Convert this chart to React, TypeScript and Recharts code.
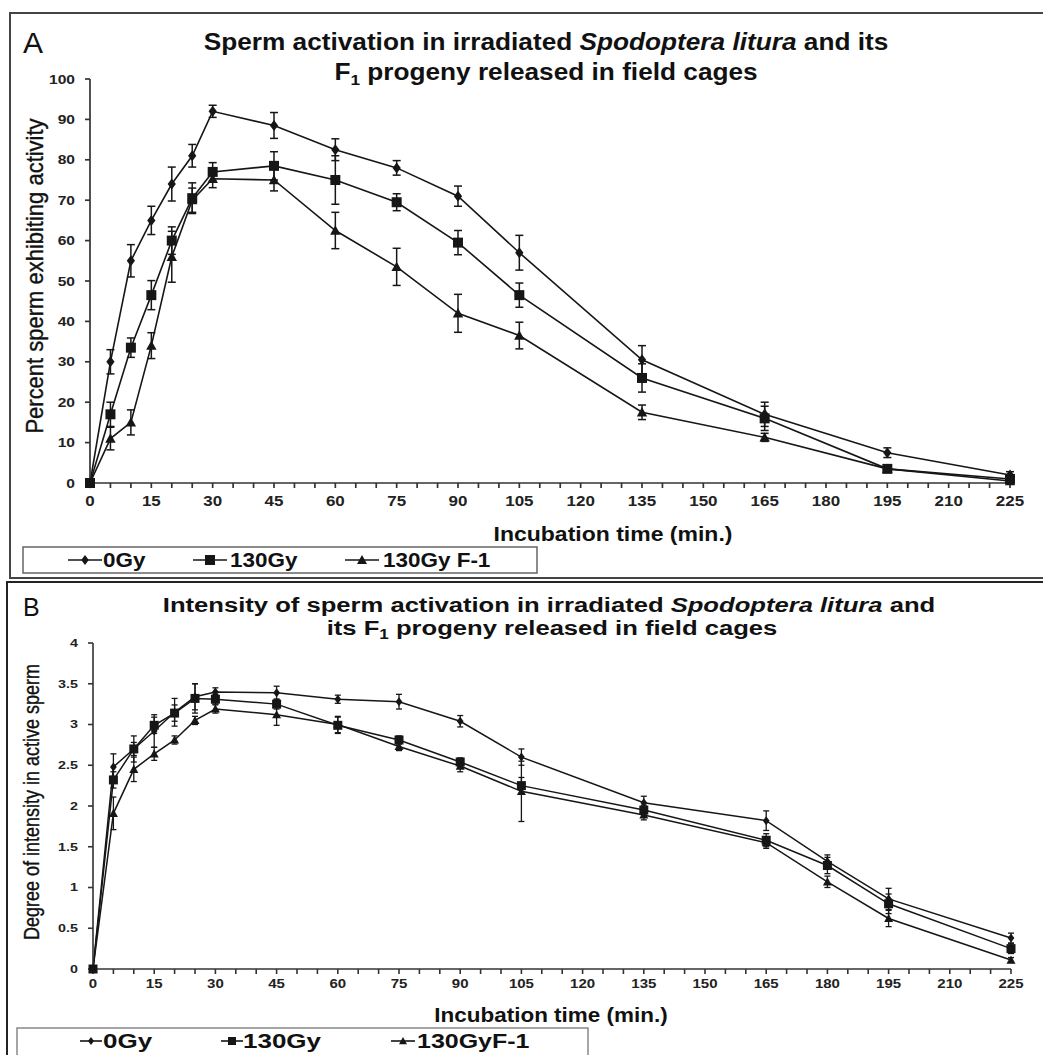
import React from 'react';
import { LineChart, Line, XAxis, YAxis, ErrorBar } from 'recharts';

// Panel A: percent sperm exhibiting activity
const timesA = [0, 5, 10, 15, 20, 25, 30, 45, 60, 75, 90, 105, 135, 165, 195, 225];
const gy0A = [0, 30, 55, 65, 74, 81, 92, 88.5, 82.5, 78, 71, 57, 30.5, 17, 7.5, 2];
const gy0ErrA = [0, 3, 4, 3.5, 4.2, 2.8, 1.5, 3.2, 2.7, 1.8, 2.5, 4.3, 3.5, 3, 1.2, 0.8];
const gy130A = [0, 17, 33.5, 46.5, 60, 70.5, 77, 78.5, 75, 69.5, 59.5, 46.5, 26, 16, 3.5, 1];
const gy130ErrA = [0, 3, 2.4, 3.6, 3.4, 3.8, 2.3, 3.5, 6, 2.1, 3, 3, 3.5, 3, 0.5, 0.5];
const f1A = [0, 11, 15, 34, 56, 70, 75.3, 75, 62.5, 53.5, 42, 36.5, 17.5, 11.3, 3.5, 0.5];
const f1ErrA = [0, 2.8, 3.1, 3.2, 6.3, 3, 2.2, 2.7, 4.5, 4.6, 4.7, 3.3, 1.8, 1, 0.5, 0.5];

// Panel B: degree of intensity in active sperm
const timesB = [0, 5, 10, 15, 20, 25, 30, 45, 60, 75, 90, 105, 135, 165, 180, 195, 225];
const gy0B = [0, 2.48, 2.7, 2.92, 3.15, 3.34, 3.4, 3.39, 3.31, 3.28, 3.04, 2.6, 2.04, 1.82, 1.32, 0.86, 0.38];
const gy0ErrB = [0, 0.16, 0.16, 0.2, 0.17, 0.16, 0.05, 0.08, 0.05, 0.09, 0.07, 0.1, 0.08, 0.12, 0.08, 0.13, 0.06];
const gy130B = [0, 2.32, 2.7, 2.99, 3.14, 3.32, 3.31, 3.25, 2.99, 2.81, 2.54, 2.25, 1.95, 1.58, 1.27, 0.8, 0.25];
const gy130ErrB = [0, 0.1, 0.08, 0.1, 0.1, 0.18, 0.06, 0.06, 0.1, 0.05, 0.05, 0.1, 0.06, 0.08, 0.1, 0.12, 0.06];
const f1B = [0, 1.91, 2.45, 2.64, 2.81, 3.05, 3.19, 3.12, 3.0, 2.73, 2.49, 2.18, 1.89, 1.55, 1.07, 0.62, 0.11];
const f1ErrB = [0, 0.2, 0.15, 0.08, 0.05, 0.05, 0.05, 0.13, 0.1, 0.05, 0.07, 0.37, 0.06, 0.07, 0.07, 0.1, 0.03];

const xTicks = Array.from({ length: 46 }, (_, i) => i * 5);
const yTicksA = [0, 10, 20, 30, 40, 50, 60, 70, 80, 90, 100];
const yTicksB = [0, 0.5, 1, 1.5, 2, 2.5, 3, 3.5, 4];

const legendA = ['0Gy', '130Gy', '130Gy F-1'];
const legendB = ['0Gy', '130Gy', '130GyF-1'];

const dataA = timesA.map((t, i) => ({
  t,
  gy0: gy0A[i],
  gy0Err: gy0ErrA[i],
  gy130: gy130A[i],
  gy130Err: gy130ErrA[i],
  f1: f1A[i],
  f1Err: f1ErrA[i],
}));

const dataB = timesB.map((t, i) => ({
  t,
  gy0: gy0B[i],
  gy0Err: gy0ErrB[i],
  gy130: gy130B[i],
  gy130Err: gy130ErrB[i],
  f1: f1B[i],
  f1Err: f1ErrB[i],
}));

const INK = '#161616';
const FONT = '"Liberation Sans", Arial, sans-serif';

type Shape = 'diamond' | 'square' | 'triangle';

const markerPath = (shape: Shape, cx: number, cy: number, r: number) => {
  if (shape === 'diamond') {
    return `M${cx},${cy - r}L${cx + r * 0.75},${cy}L${cx},${cy + r}L${cx - r * 0.75},${cy}Z`;
  }
  if (shape === 'square') {
    return `M${cx - r},${cy - r}H${cx + r}V${cy + r}H${cx - r}Z`;
  }
  return `M${cx},${cy - r}L${cx + r},${cy + r * 0.8}L${cx - r},${cy + r * 0.8}Z`;
};

const makeDot = (shape: Shape, r: number) => (p: any) => {
  if (p.cx == null || p.cy == null) return <g key={`n-${shape}-${p.index}`} />;
  return <path key={`${shape}-${p.index}`} d={markerPath(shape, p.cx, p.cy, r)} fill={INK} />;
};

const makeXTick = (fs: number, sx: number) => (props: any) => {
  const { x, y, payload } = props;
  if (payload.value % 15 !== 0) return <g />;
  return (
    <text
      transform={`translate(${x},${y}) scale(${sx},1)`}
      dy="0.71em"
      textAnchor="middle"
      fontSize={fs}
      fontWeight="bold"
      fontFamily={FONT}
      fill="#222"
    >
      {payload.value}
    </text>
  );
};

const makeYTick = (fs: number, sx: number) => (props: any) => {
  const { x, y, payload } = props;
  return (
    <text
      transform={`translate(${x},${y}) scale(${sx},1)`}
      dy="0.355em"
      textAnchor="end"
      fontSize={fs}
      fontWeight="bold"
      fontFamily={FONT}
      fill="#222"
    >
      {payload.value}
    </text>
  );
};

const seriesA = [
  { key: 'gy0', err: 'gy0Err', shape: 'diamond' as Shape, r: 5.5 },
  { key: 'gy130', err: 'gy130Err', shape: 'square' as Shape, r: 5 },
  { key: 'f1', err: 'f1Err', shape: 'triangle' as Shape, r: 5.2 },
];

const seriesB = [
  { key: 'gy0', err: 'gy0Err', shape: 'diamond' as Shape, r: 4.5 },
  { key: 'gy130', err: 'gy130Err', shape: 'square' as Shape, r: 4.5 },
  { key: 'f1', err: 'f1Err', shape: 'triangle' as Shape, r: 4.5 },
];

const LegendItem = ({
  x, y, len, shape, r, label, textX, baseline, fs, sx,
}: {
  x: number; y: number; len: number; shape: Shape; r: number; label: string;
  textX: number; baseline: number; fs: number; sx: number;
}) => (
  <g>
    <line x1={x} x2={x + len} y1={y} y2={y} stroke={INK} strokeWidth={1.6} />
    <path d={markerPath(shape, x + len / 2, y, r)} fill={INK} />
    <text
      transform={`translate(${textX},${baseline}) scale(${sx},1)`}
      fontSize={fs}
      fontWeight="bold"
      fontFamily={FONT}
      fill="#111"
    >
      {label}
    </text>
  </g>
);

const App: React.FC = () => {
  return (
    <div style={{ position: 'absolute', left: 0, top: 0, width: 1043, height: 1055, background: '#fff', overflow: 'hidden' }}>
      <div style={{ position: 'absolute', left: 0, top: 0 }}>
        <LineChart width={1043} height={560} data={dataA} margin={{ top: 79, right: 33, bottom: 47, left: 30 }}>
          <XAxis
            dataKey="t"
            type="number"
            domain={[0, 225]}
            ticks={xTicks}
            interval={0}
            tickSize={5}
            tickMargin={7}
            height={30}
            stroke="#333"
            strokeWidth={1.7}
            tick={makeXTick(15, 1.13)}
          />
          <YAxis
            type="number"
            domain={[0, 100]}
            ticks={yTicksA}
            interval={0}
            tickSize={5}
            tickMargin={10}
            width={60}
            stroke="#333"
            strokeWidth={1.7}
            tick={makeYTick(13, 1.2)}
          />
          {seriesA.map((s) => (
            <Line
              key={s.key}
              type="linear"
              dataKey={s.key}
              stroke={INK}
              strokeWidth={1.6}
              dot={makeDot(s.shape, s.r)}
              activeDot={false}
              isAnimationActive={false}
            >
              <ErrorBar dataKey={s.err} direction="y" width={4} stroke={INK} strokeWidth={1.5} isAnimationActive={false} />
            </Line>
          ))}
        </LineChart>
      </div>

      <div style={{ position: 'absolute', left: 0, top: 560 }}>
        <LineChart width={1043} height={495} data={dataB} margin={{ top: 83, right: 32, bottom: 56, left: 33 }}>
          <XAxis
            dataKey="t"
            type="number"
            domain={[0, 225]}
            ticks={xTicks}
            interval={0}
            tickSize={5}
            tickMargin={5.5}
            height={30}
            stroke="#333"
            strokeWidth={1.6}
            tick={makeXTick(12, 1.25)}
          />
          <YAxis
            type="number"
            domain={[0, 4]}
            ticks={yTicksB}
            interval={0}
            tickSize={5}
            tickMargin={10}
            width={60}
            stroke="#333"
            strokeWidth={1.6}
            tick={makeYTick(11, 1.3)}
          />
          {seriesB.map((s) => (
            <Line
              key={s.key}
              type="linear"
              dataKey={s.key}
              stroke={INK}
              strokeWidth={1.5}
              dot={makeDot(s.shape, s.r)}
              activeDot={false}
              isAnimationActive={false}
            >
              <ErrorBar dataKey={s.err} direction="y" width={3} stroke={INK} strokeWidth={1.3} isAnimationActive={false} />
            </Line>
          ))}
        </LineChart>
      </div>

      <svg
        width={1043}
        height={1055}
        style={{ position: 'absolute', left: 0, top: 0, pointerEvents: 'none' }}
      >
        {/* panel frames */}
        <rect x={10} y={13} width={1045} height={565} fill="none" stroke="#444" strokeWidth={2} />
        <rect x={7} y={582} width={1050} height={490} fill="none" stroke="#222" strokeWidth={2} />

        {/* panel A texts */}
        <text x={23} y={53} fontSize={30} fontFamily={FONT} fill="#111">A</text>
        <text
          transform="translate(546,50) scale(1.14,1)"
          textAnchor="middle"
          fontSize={23}
          fontWeight="bold"
          fontFamily={FONT}
          fill="#111"
        >
          <tspan>{'Sperm activation in irradiated '}</tspan>
          <tspan fontStyle="italic">{'Spodoptera litura'}</tspan>
          <tspan>{' and its'}</tspan>
        </text>
        <text
          transform="translate(546,80) scale(1.14,1)"
          textAnchor="middle"
          fontSize={23}
          fontWeight="bold"
          fontFamily={FONT}
          fill="#111"
        >
          <tspan>F</tspan>
          <tspan fontSize={15} dy={5}>1</tspan>
          <tspan dy={-5}>{' progeny released in field cages'}</tspan>
        </text>
        <text
          transform="translate(43,276) rotate(-90) scale(1,1.08)"
          textAnchor="middle"
          fontSize={22}
          fontFamily={FONT}
          fill="#111"
          stroke="#111"
          strokeWidth={0.35}
        >
          Percent sperm exhibiting activity
        </text>
        <text
          transform="translate(613,541) scale(1.15,1)"
          textAnchor="middle"
          fontSize={20}
          fontWeight="bold"
          fontFamily={FONT}
          fill="#111"
        >
          Incubation time (min.)
        </text>

        {/* legend A */}
        <rect x={23} y={547} width={514} height={26} fill="#fff" stroke="#666" strokeWidth={1.5} />
        <LegendItem x={68} y={560} len={34} shape="diamond" r={5} label={legendA[0]} textX={103} baseline={567} fs={21} sx={1.07} />
        <LegendItem x={193} y={560} len={34} shape="square" r={5} label={legendA[1]} textX={230} baseline={567} fs={21} sx={1.07} />
        <LegendItem x={345} y={560} len={34} shape="triangle" r={5} label={legendA[2]} textX={383} baseline={567} fs={21} sx={1.07} />

        {/* panel B texts */}
        <text x={23} y={616} fontSize={25} fontFamily={FONT} fill="#111">B</text>
        <text
          transform="translate(549,612) scale(1.22,1)"
          textAnchor="middle"
          fontSize={21}
          fontWeight="bold"
          fontFamily={FONT}
          fill="#111"
        >
          <tspan>{'Intensity of sperm activation in irradiated '}</tspan>
          <tspan fontStyle="italic">{'Spodoptera litura'}</tspan>
          <tspan>{' and'}</tspan>
        </text>
        <text
          transform="translate(552,635) scale(1.22,1)"
          textAnchor="middle"
          fontSize={21}
          fontWeight="bold"
          fontFamily={FONT}
          fill="#111"
        >
          <tspan>{'its F'}</tspan>
          <tspan fontSize={14} dy={4}>1</tspan>
          <tspan dy={-4}>{' progeny released in field cages'}</tspan>
        </text>
        <text
          transform="translate(39,802) rotate(-90) scale(1,1.25)"
          textAnchor="middle"
          fontSize={18}
          fontFamily={FONT}
          fill="#111"
          stroke="#111"
          strokeWidth={0.3}
        >
          Degree of intensity in active sperm
        </text>
        <text
          transform="translate(551,1022) scale(1.07,1)"
          textAnchor="middle"
          fontSize={21}
          fontWeight="bold"
          fontFamily={FONT}
          fill="#111"
        >
          Incubation time (min.)
        </text>

        {/* legend B */}
        <rect x={17} y={1028} width={571} height={40} fill="#fff" stroke="#888" strokeWidth={1.5} />
        <LegendItem x={80} y={1041} len={22} shape="diamond" r={4} label={legendB[0]} textX={103} baseline={1048} fs={20} sx={1.3} />
        <LegendItem x={221} y={1041} len={22} shape="square" r={4} label={legendB[1]} textX={243} baseline={1048} fs={20} sx={1.3} />
        <LegendItem x={391} y={1041} len={24} shape="triangle" r={4} label={legendB[2]} textX={417} baseline={1048} fs={20} sx={1.25} />
      </svg>
    </div>
  );
};

export default App;
